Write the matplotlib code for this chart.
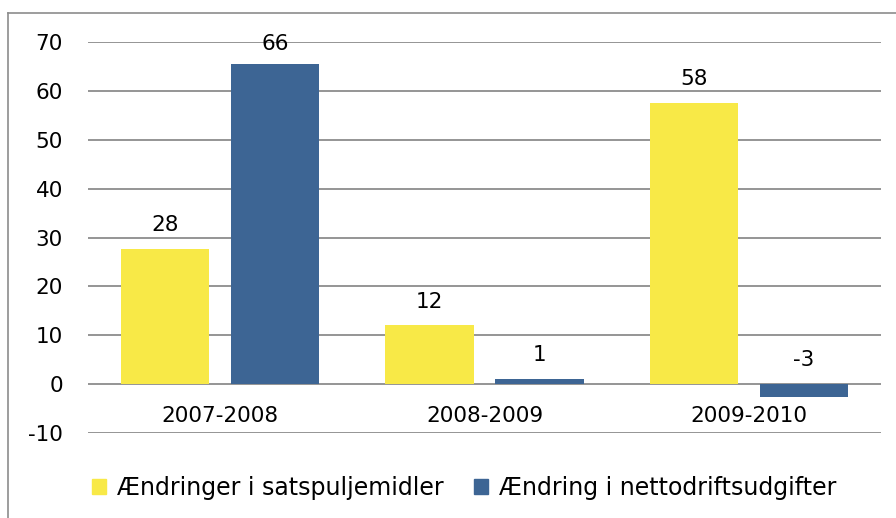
import matplotlib
matplotlib.use("Agg")
import matplotlib.pyplot as plt
from matplotlib.lines import Line2D
import numpy as np

categories = ["2007-2008", "2008-2009", "2009-2010"]
series_names = ["Ændringer i satspuljemidler", "Ændring i nettodriftsudgifter"]
satspulje = [27.7, 12.0, 57.6]
netto = [65.6, 1.1, -2.6]
yticks = [-10, 0, 10, 20, 30, 40, 50, 60, 70]

yellow = "#F8E947"
blue = "#3D6594"
grid_c = "#8C8C8C"
fs = 15.5

plt.rcParams["font.family"] = ["DejaVu Sans"]

fig = plt.figure(figsize=(8.96, 5.18), dpi=100)
W, H = 896, 518
ax = fig.add_axes([88 / W, 1 - 433 / H, (881 - 88) / W, (433 - 42) / H])

x = np.arange(len(categories))
bw = 1 / 3
off = 0.208
b1 = ax.bar(x - off, satspulje, bw, color=yellow, zorder=3)
b2 = ax.bar(x + off, netto, bw, color=blue, zorder=3)

ax.set_ylim(-10, 70)
ax.set_xlim(-0.5, 2.5)
ax.set_yticks(yticks)
ax.set_yticklabels([str(t) for t in yticks], fontsize=fs)
ax.yaxis.grid(True, color=grid_c, linewidth=1.3, zorder=0)
ax.tick_params(axis="y", length=0, pad=18)
ax.tick_params(axis="x", length=0)
for s in ax.spines.values():
    s.set_visible(False)
ax.set_xticks([])

for xi, cat in zip(x, categories):
    ax.text(xi, -6.6, cat, ha="center", va="center", fontsize=fs)

for bars, vals in ((b1, satspulje), (b2, netto)):
    for rect, v in zip(bars, vals):
        cx = rect.get_x() + rect.get_width() / 2
        dy = 10 if v < 60 else 7
        ax.annotate(f"{v:.0f}", (cx, max(v, 0)), xytext=(0, dy), textcoords="offset points",
                    ha="center", va="bottom", fontsize=fs)

# outer chart border (top and left)
fig.add_artist(Line2D([8 / W, 1], [1 - 13 / H, 1 - 13 / H], transform=fig.transFigure,
                      color="#8C8C8C", linewidth=1.2))
fig.add_artist(Line2D([8 / W, 8 / W], [0, 1 - 13 / H], transform=fig.transFigure,
                      color="#8C8C8C", linewidth=1.2))

handles = [plt.Rectangle((0, 0), 1, 1, color=yellow), plt.Rectangle((0, 0), 1, 1, color=blue)]
fig.legend(handles, series_names, loc="center", bbox_to_anchor=(464 / W, 1 - 488 / H),
           ncol=2, frameon=False, fontsize=17, handlelength=0.6, handleheight=0.6,
           handletextpad=0.45, columnspacing=1.3)

fig.savefig("out.png", dpi=100)
